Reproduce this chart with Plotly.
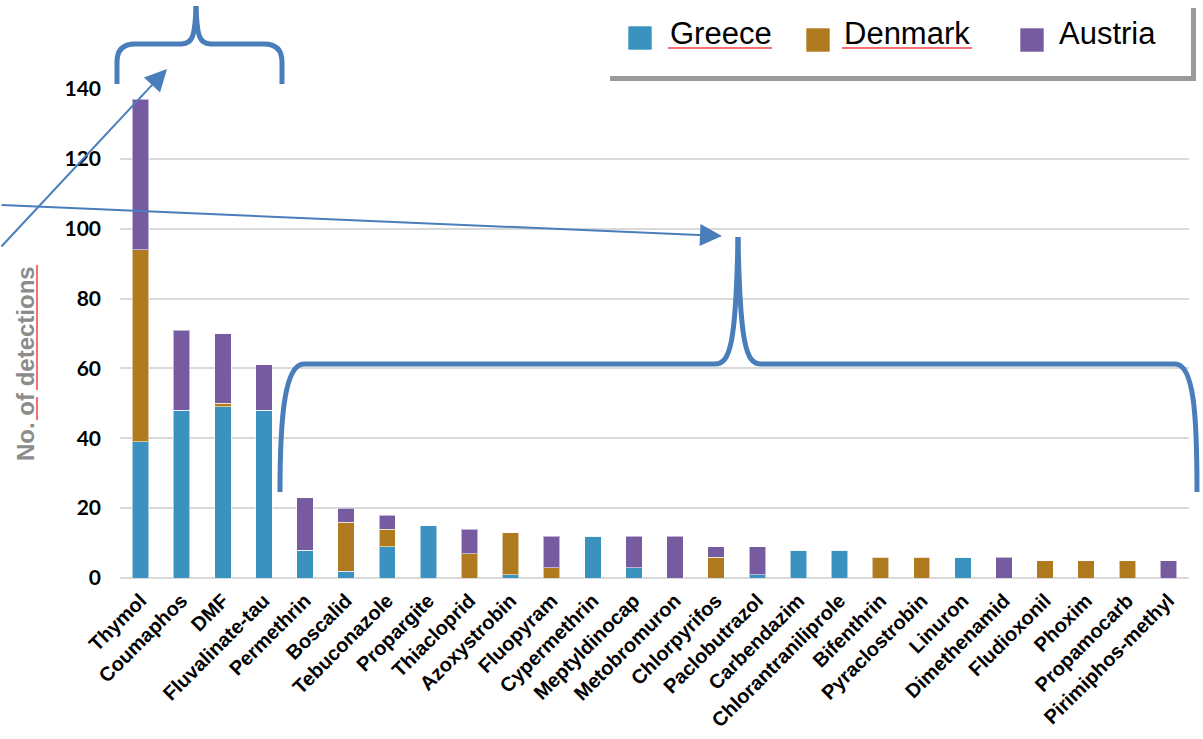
import plotly.graph_objects as go

# ---------------- data ----------------
pesticides = ["Thymol", "Coumaphos", "DMF", "Fluvalinate-tau", "Permethrin", "Boscalid",
              "Tebuconazole", "Propargite", "Thiacloprid", "Azoxystrobin", "Fluopyram",
              "Cypermethrin", "Meptyldinocap", "Metobromuron", "Chlorpyrifos", "Paclobutrazol",
              "Carbendazim", "Chlorantraniliprole", "Bifenthrin", "Pyraclostrobin", "Linuron",
              "Dimethenamid", "Fludioxonil", "Phoxim", "Propamocarb", "Pirimiphos-methyl"]
greece  = [39, 48, 49, 48, 8, 2, 9, 15, 0, 1, 0, 12, 3, 0, 0, 1, 8, 8, 0, 0, 6, 0, 0, 0, 0, 0]
denmark = [55, 0, 1, 0, 0, 14, 5, 0, 7, 12, 3, 0, 0, 0, 6, 0, 0, 0, 6, 6, 0, 0, 5, 5, 5, 0]
austria = [43, 23, 20, 13, 15, 4, 4, 0, 7, 0, 9, 0, 9, 12, 3, 8, 0, 0, 0, 0, 0, 6, 0, 0, 0, 5]
series_names = ["Greece", "Denmark", "Austria"]
series_colors = ["#3A93BE", "#B07B1F", "#765BA0"]
y_ticks = [0, 20, 40, 60, 80, 100, 120, 140]
y_title = "No. of detections"

# ---------------- layout geometry (pixels) ----------------
W, H = 1203, 739
L, R, T, B = 120, 1189, 89, 578   # plot area edges


def px(x):
    return (x - L) / (R - L)


def py(y):
    return (B - y) / (B - T)


def path(cmds):
    out = []
    for c in cmds:
        if isinstance(c, str):
            out.append(c)
        else:
            out.append(f"{px(c[0]):.5f},{py(c[1]):.5f}")
    return " ".join(out)


fig = go.Figure()
for name, vals, col in zip(series_names, [greece, denmark, austria], series_colors):
    fig.add_trace(go.Bar(
        x=pesticides, y=vals, name=name,
        marker=dict(color=col, line=dict(color="rgba(255,255,255,0.55)", width=1)),
        showlegend=False,
    ))

shapes = []
blue = "#4A7EBB"
# brace 1 (above first four bars)
shapes.append(dict(type="path", xref="paper", yref="paper",
                   path=path(["M", (117, 84), "L", (117, 62), "Q", (117, 44), (135, 44),
                              "L", (181, 44), "C", (192, 44), (195, 38), (196, 6)]),
                   line=dict(color=blue, width=5)))
shapes.append(dict(type="path", xref="paper", yref="paper",
                   path=path(["M", (196, 6), "C", (197, 38), (200, 44), (211, 44),
                              "L", (264, 44), "Q", (282, 44), (282, 62), "L", (282, 84)]),
                   line=dict(color=blue, width=5)))
# brace 2 (over the remaining bars)
shapes.append(dict(type="path", xref="paper", yref="paper",
                   path=path(["M", (280, 492), "C", (280, 415), (285, 364), (304, 364),
                              "L", (715, 364), "C", (730, 364), (736, 345), (738, 237)]),
                   line=dict(color=blue, width=5)))
shapes.append(dict(type="path", xref="paper", yref="paper",
                   path=path(["M", (738, 237), "C", (740, 345), (746, 364), (761, 364),
                              "L", (1175, 364), "C", (1194, 364), (1197, 415), (1197, 492)]),
                   line=dict(color=blue, width=5)))

# y title spell-check underlines
red = "#F04040"
shapes.append(dict(type="line", xref="paper", yref="paper", x0=px(37), x1=px(37),
                   y0=py(265), y1=py(390), line=dict(color=red, width=1.5)))
shapes.append(dict(type="line", xref="paper", yref="paper", x0=px(37), x1=px(37),
                   y0=py(397), y1=py(420), line=dict(color=red, width=1.5)))

# legend box with shadow
shapes.append(dict(type="rect", xref="paper", yref="paper", x0=px(610), x1=px(1196),
                   y0=py(81), y1=py(8), fillcolor="#9A9A9A", line=dict(width=0), layer="above"))
shapes.append(dict(type="rect", xref="paper", yref="paper", x0=px(604), x1=px(1191),
                   y0=py(76), y1=py(2), fillcolor="white", line=dict(width=0), layer="above"))
leg_sq = [(628, 26), (806, 28), (1020, 28)]
leg_tx = [668, 842, 1057]
for (sx, sy), col in zip(leg_sq, series_colors):
    shapes.append(dict(type="rect", xref="paper", yref="paper", x0=px(sx), x1=px(sx + 24),
                       y0=py(sy + 24), y1=py(sy), fillcolor=col,
                       line=dict(color="rgba(255,255,255,0.6)", width=1), layer="above"))
# legend spell-check underlines
for x0, x1 in [(668, 772), (842, 972)]:
    shapes.append(dict(type="line", xref="paper", yref="paper", x0=px(x0), x1=px(x1),
                       y0=py(48), y1=py(48), line=dict(color=red, width=1.5), layer="above"))

annotations = []
for name, tx in zip(series_names, leg_tx):
    annotations.append(dict(xref="paper", yref="paper", x=px(tx), y=py(33), text=name,
                            showarrow=False, xanchor="left", yanchor="middle",
                            font=dict(family="Liberation Sans, Arial", size=31, color="black")))
annotations.append(dict(xref="paper", yref="paper", x=px(25), y=py(364), text=y_title,
                        showarrow=False, textangle=-90, xanchor="center", yanchor="middle",
                        font=dict(family="Liberation Sans, Arial", size=24, color="#8C8C8C",
                                  weight="bold")))
# arrows
annotations.append(dict(xref="paper", yref="paper", x=px(167), y=py(69), text="",
                        showarrow=True, ax=-167, ay=179, arrowcolor=blue, arrowwidth=2,
                        arrowhead=2, arrowsize=2.2, standoff=0))
annotations.append(dict(xref="paper", yref="paper", x=px(722), y=py(236), text="",
                        showarrow=True, ax=-722, ay=-31, arrowcolor=blue, arrowwidth=2,
                        arrowhead=2, arrowsize=2.2, standoff=0))

fig.update_layout(
    width=W, height=H,
    margin=dict(l=L, r=W - R, t=T, b=H - B, autoexpand=False),
    barmode="stack", bargap=0.6,
    plot_bgcolor="white", paper_bgcolor="white",
    shapes=shapes, annotations=annotations,
    showlegend=False,
)
fig.update_xaxes(
    tickangle=-45, showgrid=False, showline=False, ticks="",
    tickfont=dict(family="Liberation Sans, Arial", size=20, color="black", weight="bold"),
    ticklabelstandoff=6,
)
fig.update_yaxes(
    range=[0, 140], tickvals=y_ticks, showgrid=True, gridcolor="#D9D9D9", gridwidth=1.5,
    zeroline=True, zerolinecolor="#D9D9D9", zerolinewidth=1.5, showline=False, ticks="",
    tickfont=dict(family="Lato, Liberation Sans", size=21, color="black", weight="bold"),
    ticklabelstandoff=18,
)

fig.write_html("out.html")
